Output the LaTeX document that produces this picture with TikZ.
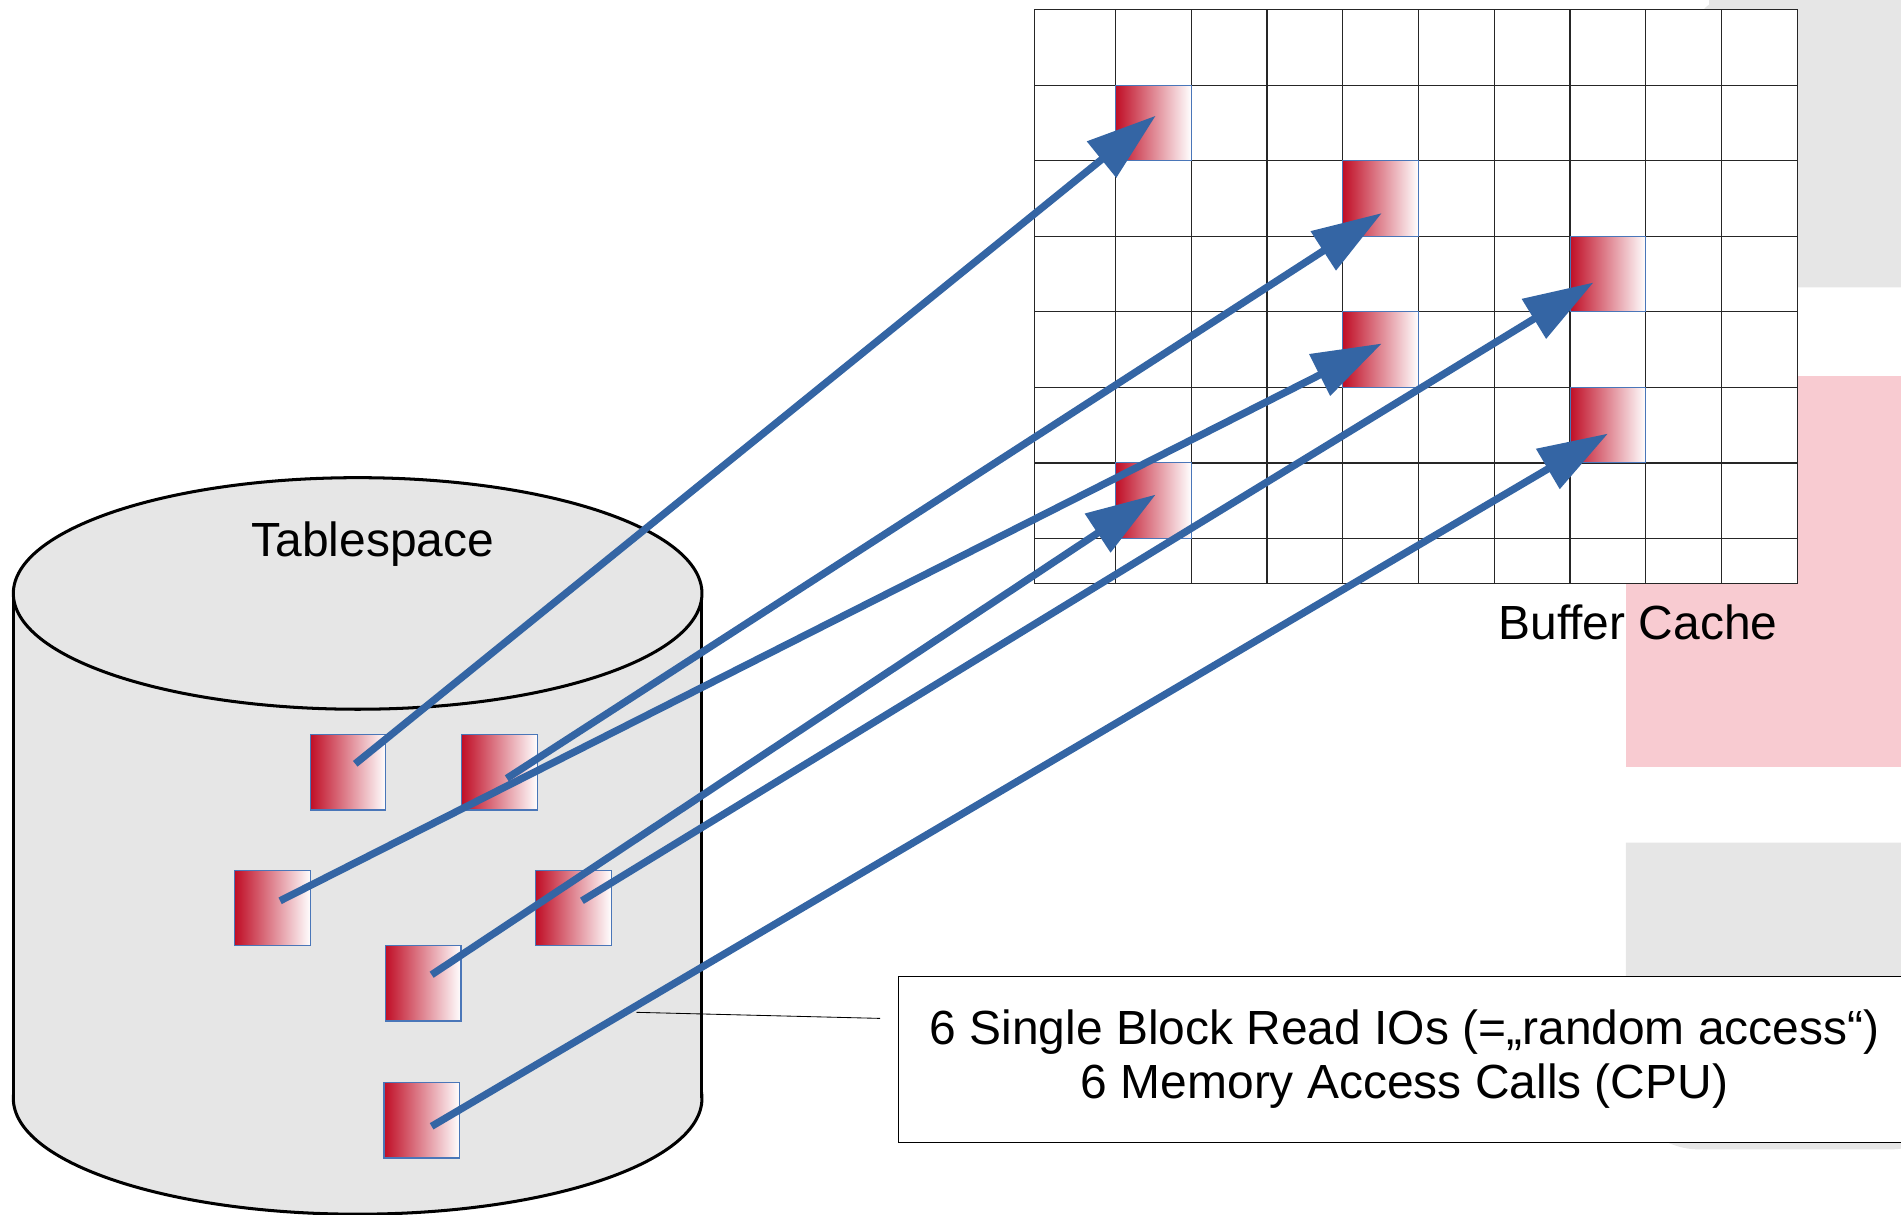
\documentclass[tikz,border=0pt]{standalone}
\usepackage{fontspec}
\setmainfont{Liberation Sans}
\usetikzlibrary{arrows.meta}
\definecolor{cylgray}{HTML}{E6E6E6}
\definecolor{bgpink}{HTML}{F8CBD1}
\definecolor{blkred}{RGB}{192,14,38}
\definecolor{blkblue}{HTML}{4A76B8}
\definecolor{arrblue}{HTML}{3465A4}
\tikzset{
  blk/.style={draw=blkblue, line width=0.5pt, left color=blkred, right color=white,
    minimum width=12.5mm, minimum height=12.45mm, inner sep=0pt},
  conn/.style={draw=arrblue, line width=1.2mm, -{Triangle[length=11.5mm,width=7.4mm]}},
  gridline/.style={draw=black!85, line width=0.6pt},
  txt/.style={inner sep=0pt}
}
\begin{document}
\begin{tikzpicture}[x=0.2mm, y=-0.2mm, font=\fontsize{22.5}{25.5}\selectfont]
\useasboundingbox (0,0) rectangle (1568,1002);
% slide background
\fill[cylgray] (1400,237) -- (1400,22) [rounded corners=4.4mm] -- (1400,0) -- (1620,0) [sharp corners] -- (1620,237) -- cycle;
\fill[cylgray] (1410,-5) rectangle (1620,5);
\fill[bgpink] (1341,310) rectangle (1620,633);
\fill[cylgray] (1341,695) [rounded corners=12mm] -- (1341,948) -- (1620,948) [sharp corners] -- (1620,695) -- cycle;
% tablespace cylinder
\draw[fill=cylgray, line width=0.5mm] (295,906) ellipse [x radius=56.8mm, y radius=19.1mm];
\fill[cylgray] (11,489.5) rectangle (579,906);
\draw[line width=0.5mm] (11,489.5) -- (11,906) (579,489.5) -- (579,906);
\draw[fill=cylgray, line width=0.5mm] (295,489.5) ellipse [x radius=56.8mm, y radius=19.1mm];
\node[txt] (ts) at (307.5,449) {Tablespace};
% buffer cache grid
\draw[fill=white, gridline] (853,8) rectangle (1482.5,481);
\foreach \k in {0,...,9} \draw[gridline] ({920+62.5*\k},8) -- ({920+62.5*\k},481);
\foreach \k in {1,...,7} \draw[gridline] (853,{8+62.3*\k}) -- (1482.5,{8+62.3*\k});
\node[txt] (bc) at (1351,513) {Buffer Cache};
% blocks on disk
\node[blk] (b1) at (287,637) {};
\node[blk] (b2) at (412,637) {};
\node[blk] (b3) at (225,749) {};
\node[blk] (b4) at (473,749) {};
\node[blk] (b5) at (349,811) {};
\node[blk] (b6) at (348,924) {};
% blocks in cache
\node[blk] (c1) at (951.25,101.45) {};
\node[blk] (c2) at (1138.75,163.75) {};
\node[blk] (c3) at (1326.25,226.05) {};
\node[blk] (c4) at (1138.75,288.35) {};
\node[blk] (c5) at (1326.25,350.65) {};
\node[blk] (c6) at (951.25,412.95) {};
% note
\coordinate (lead) at (525,835);
\coordinate (leadend) at (726,840);
\draw[line width=0.4pt] (lead) -- (leadend);
\node[draw, fill=white, line width=0.4pt, minimum width=167mm, minimum height=27.4mm, align=center]
  (note) at (1158.5,873.5) {6 Single Block Read IOs (=„random access“)\\6 Memory Access Calls (CPU)};
% reads
\draw[conn] ([shift={(6,-7)}]b1.center) -- ([shift={(2,-6)}]c1.center);
\draw[conn] ([shift={(6,5)}]b2.center) -- ([shift={(1,12)}]c2.center);
\draw[conn] ([shift={(6,-6)}]b3.center) -- ([shift={(1,-5)}]c4.center);
\draw[conn] ([shift={(7,-7)}]b5.center) -- ([shift={(2,-5)}]c6.center);
\draw[conn] ([shift={(7,-6)}]b4.center) -- ([shift={(-12,7)}]c3.center);
\draw[conn] ([shift={(8,5)}]b6.center) -- ([shift={(0,7)}]c5.center);
\end{tikzpicture}
\end{document}
